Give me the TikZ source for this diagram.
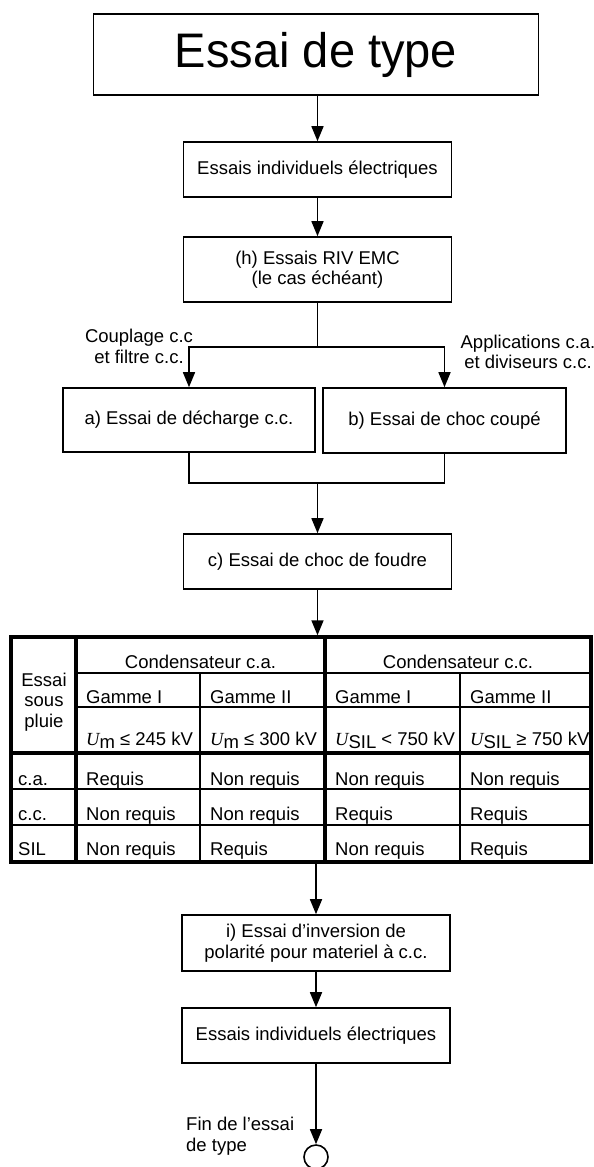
\documentclass[tikz,border=0pt]{standalone}
\usepackage{fontspec}
\setmainfont{Liberation Sans}
\newfontfamily\timesfont{Liberation Serif}
\usetikzlibrary{arrows.meta}

\newcommand{\Ugr}[1]{{\timesfont\itshape U}\raisebox{-0.35ex}{#1}}

\begin{document}
\begin{tikzpicture}[x=1pt,y=-1pt]
\tikzstyle{every node}=[font=\fontsize{18.5}{20.5}\selectfont, inner sep=0pt];
\tikzstyle{etape}=[draw, line width=1.6pt, minimum width=268pt, minimum height=55pt, align=center];
\tikzstyle{fleche}=[line width=1.6pt, -{Triangle[length=15pt,width=12pt]}];
\tikzstyle{trait}=[line width=1.6pt];
\tikzstyle{mince}=[line width=1.4pt];
\tikzstyle{epais}=[line width=3.4pt];
\tikzstyle{cellule}=[anchor=base west];

\useasboundingbox (0,0) rectangle (594,1167);

% etapes du haut
\node[etape, minimum width=445pt, minimum height=81pt, font=\fontsize{48.5}{50}\selectfont] (titre) at (316,54.5) {\scalebox{0.97}[1]{Essai de type}};
\node[etape] (indiv) at (317.5,169.5) {Essais individuels électriques};
\node[etape, minimum height=65pt] (riv) at (317.5,269.5) {(h) Essais RIV EMC\\(le cas échéant)};
\node[etape, minimum width=252pt, minimum height=64pt] (decharge) at (189,420) {a) Essai de décharge c.c.};
\node[etape, minimum width=243pt, minimum height=65pt] (coupe) at (444.5,420.5) {b) Essai de choc coupé};
\node[etape] (foudre) at (317.5,561.5) {c) Essai de choc de foudre};
\node[align=center] (couplage) at (139,346.5) {Couplage c.c\\et filtre c.c.};
\node[align=center] (applic) at (528,352) {Applications c.a.\\et diviseurs c.c.};

\draw[fleche] (indiv.north |- titre.south) -- (indiv.north);
\draw[fleche] (indiv.south) -- (riv.north);
\path (riv.south) ++(0,44) coordinate (bifur);
\draw[trait] (riv.south) -- (bifur);
\draw[fleche] (bifur) -| (decharge.north);
\draw[fleche] (bifur) -| (coupe.north);
\path (foudre.north) ++(0,-50) coordinate (jonction);
\draw[trait] (decharge.south) |- (jonction) -| (coupe.south);
\draw[fleche] (jonction) -- (foudre.north);

% tableau
\node[draw, epais, minimum width=580pt, minimum height=225pt] (tableau) at (301,749.5) {};
\draw[fleche] (foudre.south) -- (foudre.south |- tableau.north);
\draw[epais] (76,637) -- (76,862);
\draw[epais] (325,637) -- (325,862);
\draw[epais] (11,753) -- (591,753);
\draw[mince] (76,673) -- (591,673);
\draw[mince] (76,707) -- (591,707);
\draw[mince] (11,789) -- (591,789);
\draw[mince] (11,825) -- (591,825);
\draw[mince] (200,673) -- (200,862);
\draw[mince] (460,673) -- (460,862);

\node[align=center] (pluie) at (44,702) {Essai\\sous\\pluie};
\node[anchor=base] (condca) at (200.5,668) {Condensateur c.a.};
\node[anchor=base] (condcc) at (458,668) {Condensateur c.c.};
\node[cellule] (gca1) at (86,703) {Gamme I};
\node[cellule] (gca2) at (210,703) {Gamme II};
\node[cellule] (gcc1) at (335,703) {Gamme I};
\node[cellule] (gcc2) at (470,703) {Gamme II};
\node[cellule] (uca1) at (86,745) {\Ugr{m} ≤ 245 kV};
\node[cellule] (uca2) at (210,745) {\Ugr{m} ≤ 300 kV};
\node[cellule] (ucc1) at (335,745) {\Ugr{SIL} < 750 kV};
\node[cellule] (ucc2) at (470,745) {\Ugr{SIL} ≥ 750 kV};

\node[cellule] (ca) at (18,785) {c.a.};
\node[cellule] (ca1) at (86,785) {Requis};
\node[cellule] (ca2) at (210,785) {Non requis};
\node[cellule] (ca3) at (335,785) {Non requis};
\node[cellule] (ca4) at (470,785) {Non requis};
\node[cellule] (cc) at (18,820) {c.c.};
\node[cellule] (cc1) at (86,820) {Non requis};
\node[cellule] (cc2) at (210,820) {Non requis};
\node[cellule] (cc3) at (335,820) {Requis};
\node[cellule] (cc4) at (470,820) {Requis};
\node[cellule] (sil) at (18,855) {SIL};
\node[cellule] (sil1) at (86,855) {Non requis};
\node[cellule] (sil2) at (210,855) {Requis};
\node[cellule] (sil3) at (335,855) {Non requis};
\node[cellule] (sil4) at (470,855) {Requis};

% etapes du bas
\node[etape, minimum height=56pt] (inversion) at (316,943) {i) Essai d’inversion de\\polarité pour materiel à c.c.};
\node[etape] (indivfin) at (316,1035.5) {Essais individuels électriques};
\node[draw, circle, line width=1.6pt, minimum size=24pt] (fin) at (316,1157) {};
\node[align=left, anchor=west] (finlabel) at (186,1136) {Fin de l’essai\\de type};

\draw[fleche] (inversion.north |- tableau.south) -- (inversion.north);
\draw[fleche] (inversion.south) -- (indivfin.north);
\draw[fleche] (indivfin.south) -- (fin.north);
\end{tikzpicture}
\end{document}
